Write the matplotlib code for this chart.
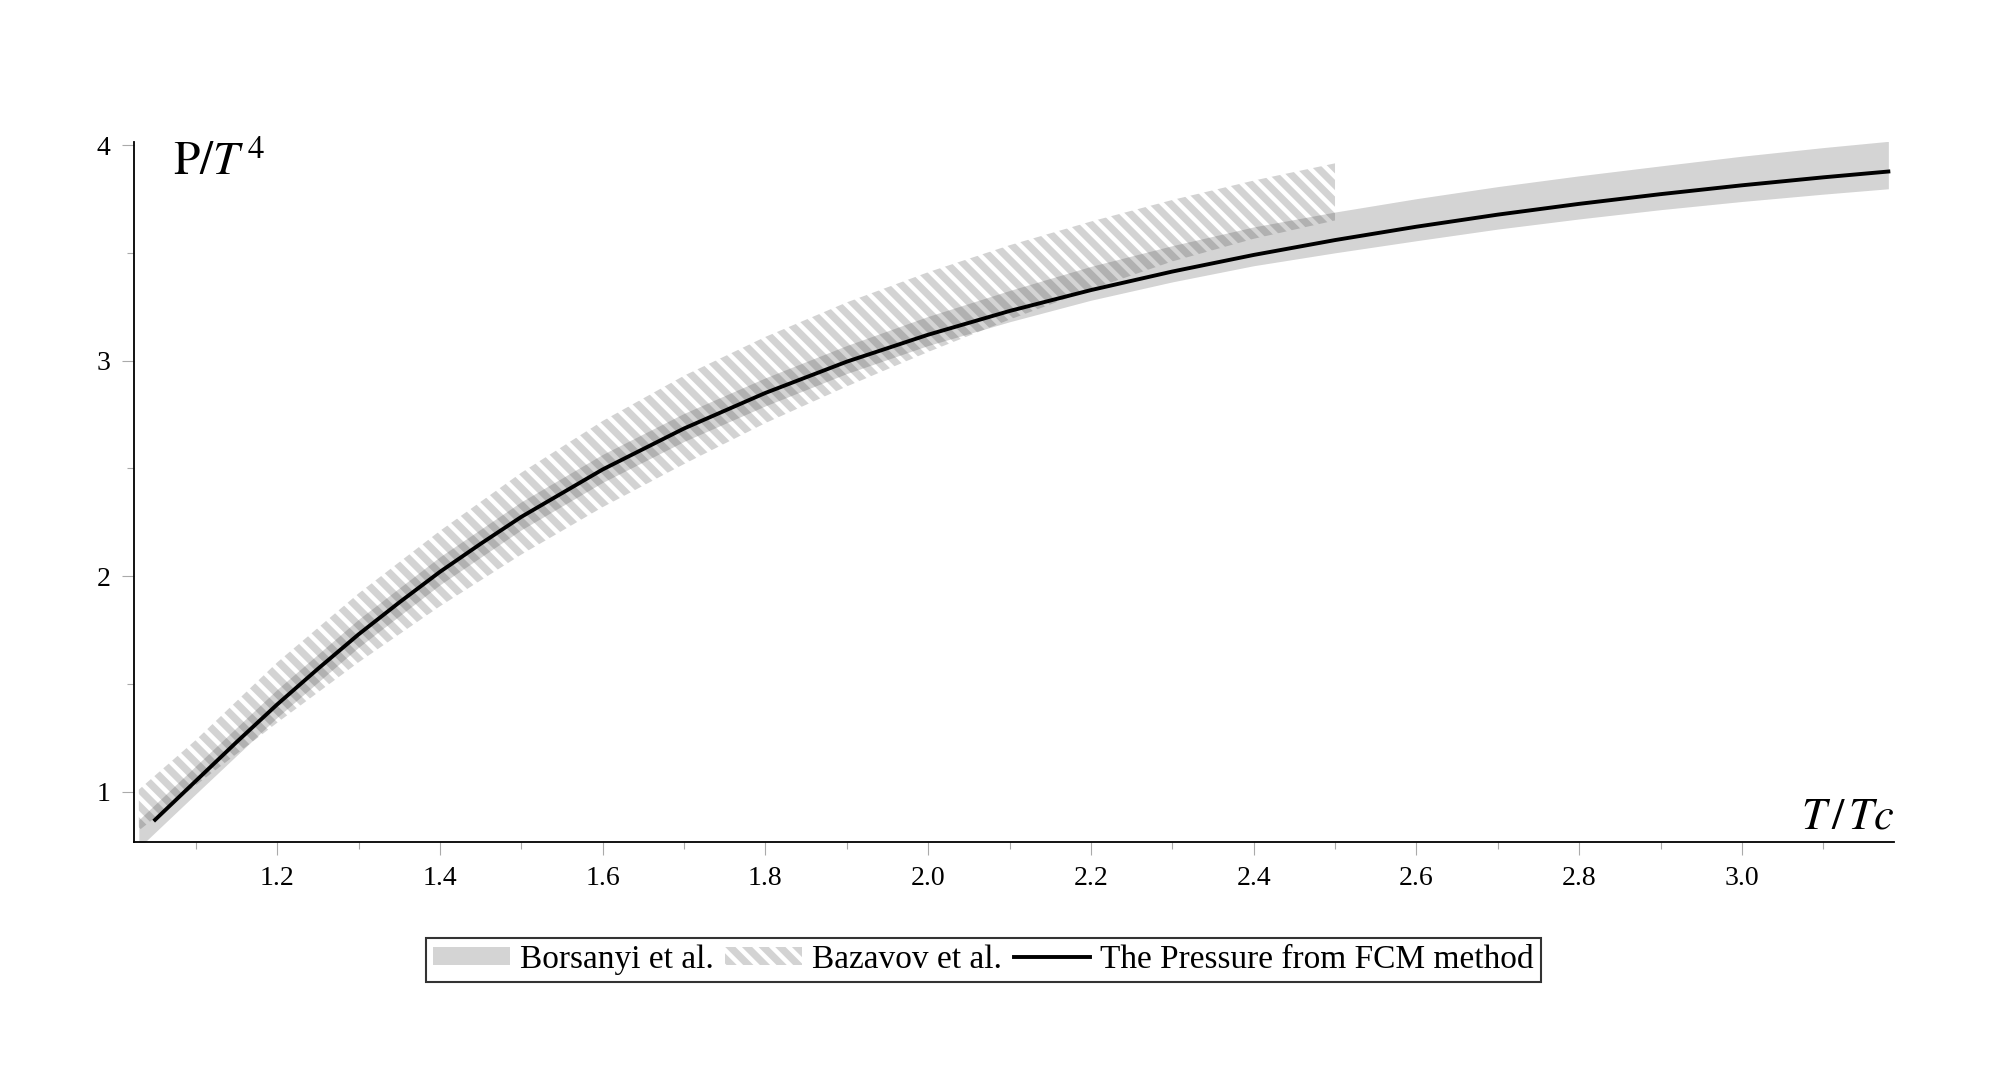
import matplotlib
matplotlib.use("Agg")
import matplotlib.pyplot as plt
from matplotlib.ticker import MultipleLocator, FormatStrFormatter

# FCM pressure curve
fcm_t = [1.05, 1.1, 1.15, 1.2, 1.25, 1.3, 1.35, 1.4, 1.45, 1.5, 1.6, 1.7, 1.8, 1.9, 2.0,
         2.1, 2.2, 2.3, 2.4, 2.5, 2.6, 2.7, 2.8, 2.9, 3.0, 3.1, 3.18]
fcm_p = [0.87, 1.05, 1.23, 1.405, 1.57, 1.73, 1.878, 2.02, 2.15, 2.275, 2.495, 2.685, 2.85,
         2.995, 3.12, 3.23, 3.327, 3.413, 3.49, 3.559, 3.621, 3.677, 3.727, 3.772, 3.813, 3.85, 3.877]

# Borsanyi et al. band
bors_t = [1.03, 1.1, 1.2, 1.3, 1.4, 1.5, 1.6, 1.7, 1.8, 1.9, 2.0, 2.1, 2.2, 2.3, 2.4, 2.5,
          2.6, 2.7, 2.8, 2.9, 3.0, 3.1, 3.18]
bors_lo = [0.74, 0.99, 1.345, 1.67, 1.96, 2.215, 2.435, 2.625, 2.79, 2.94, 3.07, 3.18, 3.28,
           3.365, 3.44, 3.50, 3.556, 3.61, 3.657, 3.70, 3.738, 3.772, 3.797]
bors_hi = [0.87, 1.12, 1.475, 1.80, 2.09, 2.345, 2.565, 2.755, 2.92, 3.07, 3.205, 3.325, 3.437,
           3.533, 3.62, 3.689, 3.751, 3.807, 3.857, 3.903, 3.948, 3.988, 4.017]

# Bazavov et al. band
baz_t = [1.03, 1.1, 1.2, 1.3, 1.4, 1.5, 1.6, 1.7, 1.8, 1.9, 2.0, 2.1, 2.2, 2.3, 2.4, 2.5]
baz_lo = [0.82, 1.03, 1.32, 1.60, 1.86, 2.10, 2.32, 2.52, 2.71, 2.88, 3.04, 3.19, 3.33, 3.46, 3.565, 3.65]
baz_hi = [1.01, 1.24, 1.60, 1.92, 2.21, 2.48, 2.72, 2.93, 3.11, 3.27, 3.41, 3.535, 3.645, 3.745, 3.835, 3.915]

plt.rcParams["font.family"] = ["Liberation Serif", "DejaVu Serif"]
plt.rcParams["mathtext.fontset"] = "stix"
plt.rcParams["hatch.linewidth"] = 5.2

fig = plt.figure(figsize=(19.99, 10.88), dpi=100)
ax = fig.add_axes([0.067, 0.2261, 0.8805, 0.6434])

ax.fill_between(baz_t, baz_lo, baz_hi, facecolor="none", edgecolor="#d3d3d3",
                hatch="\\\\", linewidth=0, label="Bazavov et al.", zorder=1)
ax.fill_between(bors_t, bors_lo, bors_hi, color=(0.16, 0.16, 0.16), alpha=0.2,
                linewidth=0, label="Borsanyi et al.", zorder=2)
ax.plot(fcm_t, fcm_p, color="black", lw=2.8, label="The Pressure from FCM method", zorder=3)

ax.set_xlim(1.024, 3.187)
ax.set_ylim(0.767, 4.014)

for s in ("top", "right"):
    ax.spines[s].set_visible(False)
for s in ("left", "bottom"):
    ax.spines[s].set_linewidth(1.3)

ax.xaxis.set_major_locator(MultipleLocator(0.2))
ax.xaxis.set_minor_locator(MultipleLocator(0.1))
ax.xaxis.set_major_formatter(FormatStrFormatter("%.1f"))
ax.yaxis.set_major_locator(MultipleLocator(1))
ax.yaxis.set_minor_locator(MultipleLocator(0.5))
ax.tick_params(which="major", length=9, width=0.8, color="#aaaaaa", labelsize=20, pad=8)
ax.tick_params(which="minor", length=5, width=0.8, color="#aaaaaa")

ax.text(0.022, 0.953, r"$\mathrm{P}/T^{\,4}$", transform=ax.transAxes, fontsize=34,
        ha="left", va="baseline")
ax.text(1.0, 0.02, r"$T\,/\,Tc$", transform=ax.transAxes, fontsize=32,
        ha="right", va="baseline")

handles, labels = ax.get_legend_handles_labels()
order = [1, 0, 2]
leg = fig.legend([handles[i] for i in order], [labels[i] for i in order],
                 loc="center", bbox_to_anchor=(0.492, 0.118), ncol=3, fontsize=24,
                 frameon=True, fancybox=False, handlelength=2.3, handleheight=0.45,
                 handletextpad=0.3, columnspacing=0.35, borderpad=0.2)
leg.get_frame().set_edgecolor("black")
leg.get_frame().set_linewidth(1.5)

fig.savefig("out.png", dpi=100)
